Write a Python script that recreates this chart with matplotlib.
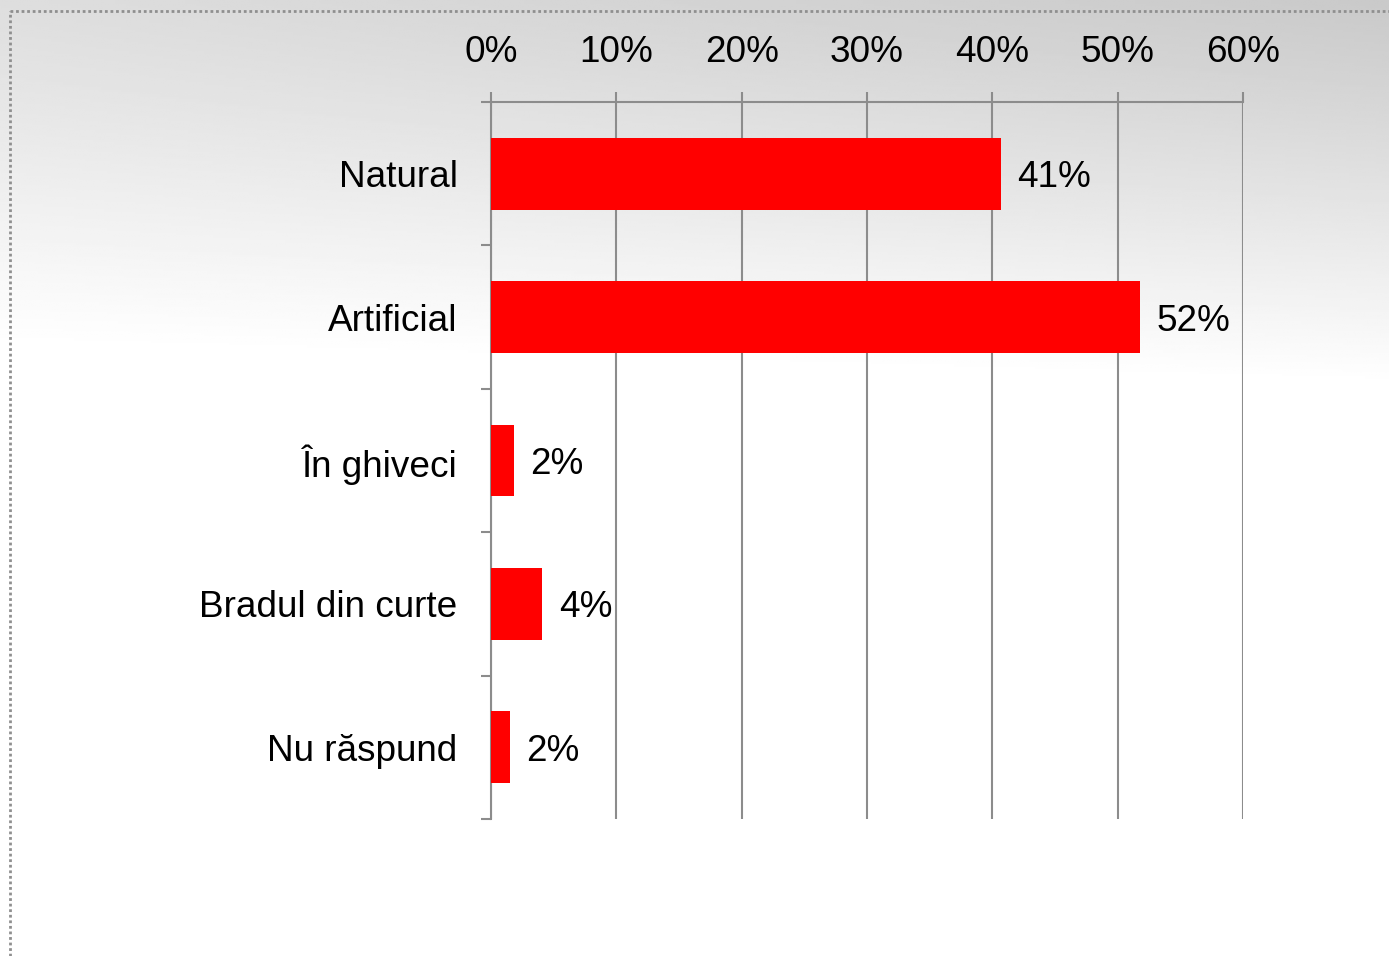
import numpy as np
import matplotlib.pyplot as plt
from matplotlib.lines import Line2D

plt.rcParams['font.family'] = ['Liberation Sans', 'DejaVu Sans']

categories = ['Natural', 'Artificial', 'În ghiveci', 'Bradul din curte', 'Nu răspund']
shares = [40.7, 51.8, 1.8, 4.1, 1.5]
xticks = [0, 10, 20, 30, 40, 50, 60]

FS = 26.6

fig = plt.figure(figsize=(13.89, 9.56), dpi=100)

# grey band at the top fading to white, a little darker on the right
bg = fig.add_axes([0, 0, 1, 1], zorder=-10)
h, w = 400, 500
yy, xx = np.mgrid[0:h, 0:w]
fy = yy / h          # 0 at top
fx = xx / w          # 0 at left
fade_end = 0.36 + 0.04 * fx
t = np.clip(fy / fade_end, 0, 1)
top = 0.87 - 0.08 * fx
shade = top + (1.0 - top) * t ** 1.1
bg.imshow(shade, cmap='gray', vmin=0, vmax=1, aspect='auto',
          extent=[0, 1, 0, 1], interpolation='bilinear')
bg.axis('off')

# dotted frame
fig.add_artist(Line2D([10 / 1389, 10 / 1389], [0, 1 - 11 / 956],
                      transform=fig.transFigure, color='#8f8f8f', lw=2, ls=(0, (1, 1))))
fig.add_artist(Line2D([10 / 1389, 1], [1 - 11 / 956, 1 - 11 / 956],
                      transform=fig.transFigure, color='#8f8f8f', lw=2, ls=(0, (1, 1))))

ax = fig.add_axes([491 / 1389, 1 - 819 / 956, 752 / 1389, 717 / 956])
ax.patch.set_alpha(0)

y = np.arange(len(categories))
ax.barh(y, shares, height=0.5, color='#ff0000', zorder=3)
for yi, v in zip(y, shares):
    ax.text(v + 1.3, yi, f'{v:.0f}%', va='center_baseline', ha='left',
            fontsize=FS, color='black')

ax.set_xlim(0, 60)
ax.set_ylim(len(categories) - 0.5, -0.5)

ax.xaxis.tick_top()
ax.set_xticks(xticks)
ax.set_xticklabels([f'{t}%' for t in xticks], fontsize=FS)
ax.tick_params(axis='x', which='major', direction='out', length=7, width=1.5,
               color='#8c8c8c', pad=16)
ax.grid(axis='x', color='#8c8c8c', lw=1.5, zorder=1)

ax.set_yticks(y)
ax.set_yticklabels(categories, fontsize=FS)
ax.set_yticks(np.arange(-0.5, len(categories)), minor=True)
ax.tick_params(axis='y', which='major', length=0, pad=24)
ax.tick_params(axis='y', which='minor', direction='out', length=7, width=1.5, color='#8c8c8c')

for side in ['right', 'bottom']:
    ax.spines[side].set_visible(False)
for side in ['left', 'top']:
    ax.spines[side].set_color('#8c8c8c')
    ax.spines[side].set_linewidth(1.5)

fig.savefig('out.png', dpi=100)
